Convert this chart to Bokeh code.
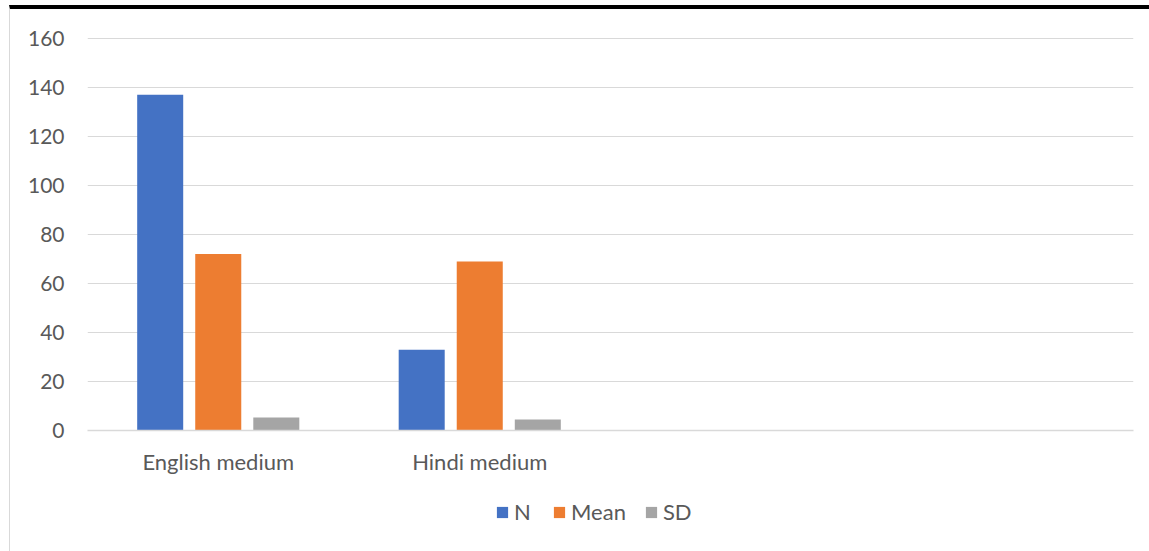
from bokeh.plotting import figure
from bokeh.models import ColumnDataSource, FactorRange, SingleIntervalTicker, Legend, LegendItem
from bokeh.transform import dodge
from bokeh.layouts import column
from bokeh.embed import file_html
from bokeh.resources import INLINE

categories = ["English medium", "Hindi medium"]
empty_slots = [" ", "  "]
series = ["N", "Mean", "SD"]
n_vals = [137, 33]
mean_vals = [72, 69]
sd_vals = [5.3, 4.5]
colors = ["#4472C4", "#ED7D31", "#A5A5A5"]

FONT = "Lato"
TXT = "#595959"

src = ColumnDataSource(dict(cat=categories, N=n_vals, Mean=mean_vals, SD=sd_vals))

p = figure(x_range=FactorRange(factors=categories + empty_slots), y_range=(0, 162),
           frame_width=1046, frame_height=397, width=1139, height=486,
           min_border_left=77, min_border_right=16, min_border_top=24, min_border_bottom=65,
           output_backend="svg", toolbar_location=None, tools="")
p.x_range.range_padding = 0
p.outline_line_color = None
p.background_fill_color = "white"
p.border_fill_color = "white"

offsets = [-0.222, 0.0, 0.222]
for s, off, c in zip(series, offsets, colors):
    p.vbar(x=dodge("cat", off, range=p.x_range), top=s, width=0.176, source=src,
           fill_color=c, line_color=None)

p.yaxis.ticker = SingleIntervalTicker(interval=20)
p.yaxis.axis_line_color = None
p.yaxis.major_tick_line_color = None
p.yaxis.minor_tick_line_color = None
p.yaxis.major_label_standoff = 17
p.yaxis.major_label_text_font = FONT
p.yaxis.major_label_text_font_size = "21px"
p.yaxis.major_label_text_color = TXT

p.xaxis.axis_line_color = "#D9D9D9"
p.xaxis.axis_line_width = 1.5
p.xaxis.major_tick_line_color = None
p.xaxis.minor_tick_line_color = None
p.xaxis.major_label_standoff = 11
p.xaxis.major_label_text_font = FONT
p.xaxis.major_label_text_font_size = "22px"
p.xaxis.major_label_text_color = TXT

p.xgrid.grid_line_color = None
p.ygrid.grid_line_color = "#D9D9D9"
p.ygrid.grid_line_width = 1
p.ygrid.ticker = SingleIntervalTicker(interval=20)

# legend strip below the chart (swatch renderers sit outside the visible range)
lf = figure(width=1139, height=56, x_range=(0, 1), y_range=(0, 1),
            x_axis_location=None, y_axis_location=None, min_border=0,
            output_backend="svg", toolbar_location=None, tools="")
lf.outline_line_color = None
lf.grid.visible = False
swatches = [lf.rect(x=[-10], y=[-10], width=1, height=1, fill_color=c, line_color=None)
            for c in colors]
legend = Legend(items=[LegendItem(label=s, renderers=[r]) for s, r in zip(series, swatches)],
                orientation="horizontal", location=(408, 26),
                padding=0, margin=0, spacing=18, label_standoff=5,
                glyph_width=14, glyph_height=14, label_height=21,
                label_text_font=FONT, label_text_font_size="22px", label_text_color=TXT,
                background_fill_alpha=0, border_line_color=None)
lf.add_layout(legend, "center")

layout = column(p, lf, spacing=0)
layout.styles = {"margin-left": "9px", "margin-top": "5px",
                 "border-top": "4px solid black", "border-left": "1px solid #D9D9D9"}

open("out.html", "w").write(file_html(layout, INLINE))
